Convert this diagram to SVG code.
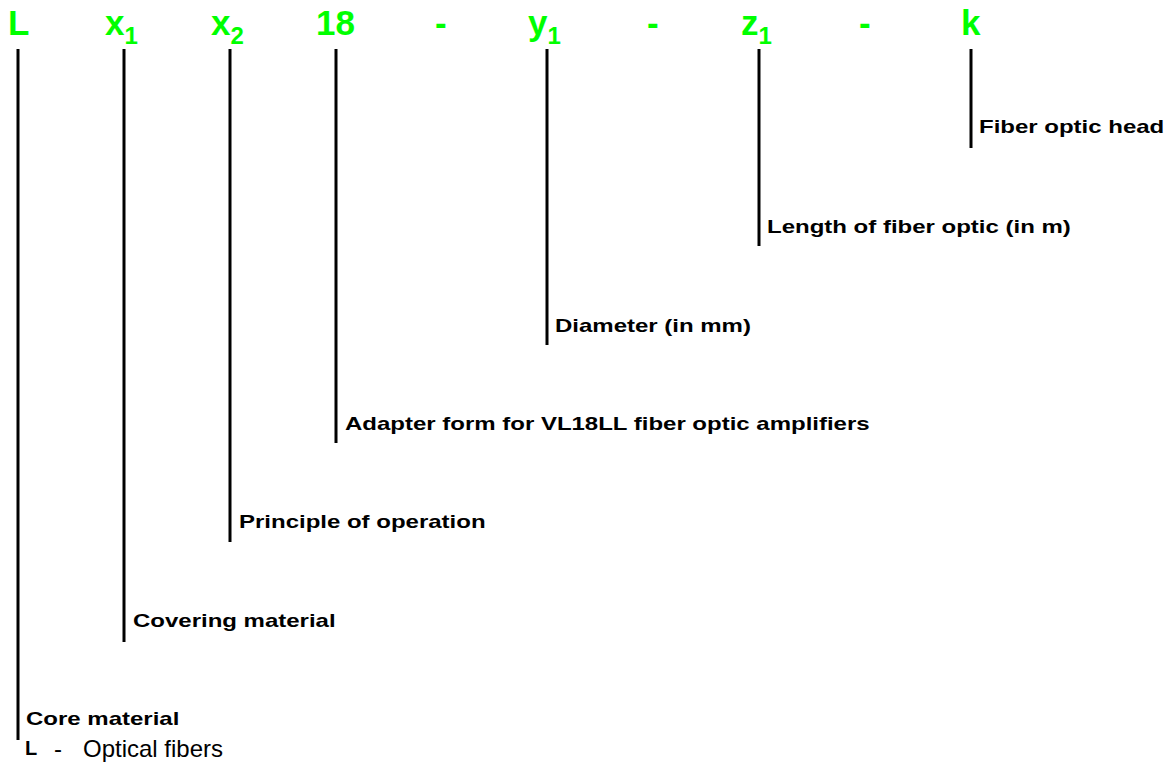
<svg xmlns="http://www.w3.org/2000/svg" width="1168" height="769" viewBox="0 0 1168 769">
<style>
.code{font-family:"Liberation Sans",Arial,sans-serif;font-weight:bold;font-size:35px;fill:#00ff00}
.sub{font-size:24px}
.lbl{font-family:"Liberation Sans",Arial,sans-serif;font-weight:bold;font-size:24px;fill:#000}
.reg{font-family:"Liberation Sans",Arial,sans-serif;font-size:24px;fill:#000}
.ln{stroke:#000;stroke-width:3;fill:none}
</style>
<rect width="1168" height="769" fill="#fff"/>
<g id="code">
<text class="code" x="8" y="35">L</text>
<text class="code" x="105" y="35">x<tspan class="sub" dy="9">1</tspan></text>
<text class="code" x="211" y="35">x<tspan class="sub" dy="9">2</tspan></text>
<text class="code" x="316" y="35">18</text>
<text class="code" x="435" y="35">-</text>
<text class="code" x="528" y="35">y<tspan class="sub" dy="9">1</tspan></text>
<text class="code" x="647" y="35">-</text>
<text class="code" x="741" y="35">z<tspan class="sub" dy="9">1</tspan></text>
<text class="code" x="859" y="35">-</text>
<text class="code" x="961" y="35">k</text>
</g>
<g id="connectors">
<line class="ln" x1="18" y1="49" x2="18" y2="740"/>
<line class="ln" x1="124" y1="49" x2="124" y2="642"/>
<line class="ln" x1="230" y1="49" x2="230" y2="542"/>
<line class="ln" x1="336" y1="49" x2="336" y2="443"/>
<line class="ln" x1="547" y1="49" x2="547" y2="345"/>
<line class="ln" x1="759" y1="49" x2="759" y2="246"/>
<line class="ln" x1="971" y1="49" x2="971" y2="148"/>
</g>
<g id="head"><text class="lbl" transform="translate(979,133) scale(1,0.8)">Fiber optic head</text></g>
<g id="length"><text class="lbl" transform="translate(767,233) scale(1,0.8)">Length of fiber optic (in m)</text></g>
<g id="diameter"><text class="lbl" transform="translate(555,332) scale(1,0.8)">Diameter (in mm)</text></g>
<g id="adapter"><text class="lbl" transform="translate(345,430) scale(1,0.8)">Adapter form for VL18LL fiber optic amplifiers</text></g>
<g id="principle"><text class="lbl" transform="translate(239,528) scale(1,0.8)">Principle of operation</text></g>
<g id="covering"><text class="lbl" transform="translate(133,627) scale(1,0.8)">Covering material</text></g>
<g id="core">
<text class="lbl" transform="translate(26,725) scale(1,0.8)">Core material</text>
<text class="lbl" style="font-size:20px" x="25" y="755">L</text>
<text class="reg" x="54" y="757">-</text>
<text class="reg" x="83" y="757">Optical fibers</text>
</g>
</svg>
